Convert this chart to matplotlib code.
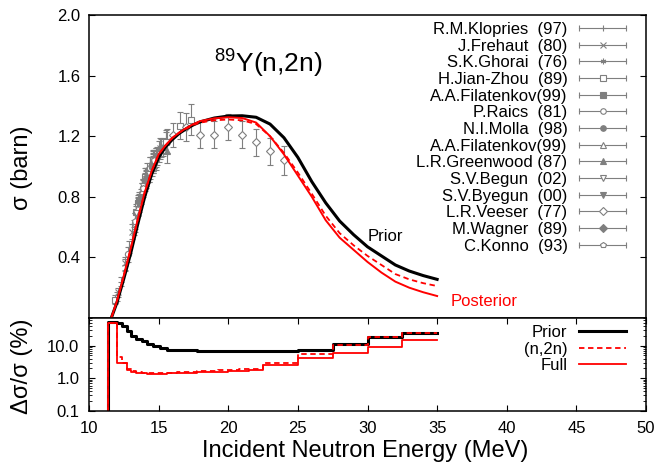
import numpy as np
import matplotlib
matplotlib.use("Agg")
import matplotlib.pyplot as plt
from matplotlib.lines import Line2D
from matplotlib.legend_handler import HandlerLine2D

plt.rcParams['font.family'] = ['Liberation Sans', 'DejaVu Sans']
plt.rcParams['mathtext.fontset'] = 'custom'
plt.rcParams['mathtext.rm'] = 'Liberation Sans'

# ---- evaluated cross sections (barn) ----
e_prior = [11.6, 12.0, 12.5, 13.0, 13.5, 14.0, 14.5, 15.0, 15.5, 16.0, 16.5, 17.0, 17.5, 18.0,
           19.0, 20.0, 21.0, 22.0, 23.0, 24.0, 25.0, 26.0, 27.0, 28.0, 29.0, 30.0, 31.0,
           32.0, 33.0, 34.0, 35.0]
sig_prior = [0.0, 0.10, 0.26, 0.43, 0.62, 0.80, 0.95, 1.06, 1.13, 1.18, 1.22, 1.25, 1.275, 1.295,
             1.32, 1.333, 1.335, 1.325, 1.28, 1.19, 1.06, 0.90, 0.76, 0.64, 0.55, 0.47, 0.41,
             0.35, 0.31, 0.28, 0.255]
sig_full = [0.0, 0.11, 0.28, 0.46, 0.65, 0.83, 0.97, 1.08, 1.14, 1.19, 1.225, 1.255, 1.28, 1.30,
            1.318, 1.325, 1.32, 1.29, 1.20, 1.08, 0.94, 0.80, 0.645, 0.53, 0.45, 0.37, 0.30,
            0.24, 0.20, 0.17, 0.145]
sig_n2n = [0.0, 0.11, 0.28, 0.46, 0.65, 0.83, 0.97, 1.08, 1.14, 1.19, 1.225, 1.25, 1.275, 1.29,
           1.305, 1.31, 1.305, 1.28, 1.20, 1.09, 0.96, 0.82, 0.675, 0.56, 0.48, 0.41, 0.35,
           0.29, 0.255, 0.23, 0.211]

# ---- relative uncertainties (%) on energy bins ----
edges = [11.4, 12.0, 12.35, 12.7, 13.05, 13.4, 13.8, 14.15, 14.6, 15.1, 15.6, 16.3, 17.0,
         17.75, 18.5, 19.25, 20.0, 20.75, 21.5, 22.5, 25.0, 27.5, 30.0, 32.5, 35.0]
unc_prior = [52, 50, 40, 28, 20, 16.3, 13.5, 11.3, 9.5, 8.3, 7.6, 7.3, 7.1, 7.0, 6.9, 6.9,
             6.8, 6.8, 6.7, 6.8, 7.6, 11.3, 18.8, 24.5]
unc_n2n = [50, 4.6, 2.9, 1.96, 1.65, 1.55, 1.5, 1.47, 1.45, 1.47, 1.5, 1.55, 1.6, 1.65, 1.7,
           1.8, 1.85, 1.9, 1.96, 3.0, 5.6, 10.5, 17.9, 24.2]
unc_full = [50, 2.9, 2.9, 1.75, 1.55, 1.48, 1.43, 1.40, 1.39, 1.40, 1.42, 1.45, 1.5, 1.53,
            1.57, 1.6, 1.65, 1.7, 1.75, 2.48, 4.2, 5.85, 9.3, 15.2]

# ---- experimental data: (label, marker, filled, E, sigma, dsigma) ----
exp_sets = [
    ("R.M.Klopries  (97)", "+", False,
     [12.0, 12.3, 12.6, 12.9, 13.2, 13.5, 13.8, 14.1, 14.4, 14.7, 15.0, 15.5],
     [0.14, 0.24, 0.35, 0.47, 0.60, 0.72, 0.84, 0.93, 1.00, 1.05, 1.10, 1.16],
     [0.03, 0.03, 0.04, 0.04, 0.05, 0.05, 0.05, 0.06, 0.06, 0.06, 0.07, 0.07]),
    ("J.Frehaut  (80)", "x", False,
     [12.1, 12.6, 13.1, 13.6, 14.1, 14.6, 15.1, 15.6],
     [0.17, 0.36, 0.57, 0.76, 0.92, 1.03, 1.12, 1.17],
     [0.03, 0.04, 0.05, 0.06, 0.06, 0.07, 0.07, 0.08]),
    ("S.K.Ghorai  (76)", (6, 2, 0), False,
     [13.5, 14.1, 14.7],
     [0.74, 0.94, 1.05],
     [0.05, 0.05, 0.06]),
    ("H.Jian-Zhou  (89)", "s", False,
     [11.9, 13.5, 14.0, 14.6, 15.5, 16.5, 17.3],
     [0.12, 0.76, 0.93, 1.04, 1.16, 1.27, 1.31],
     [0.03, 0.05, 0.06, 0.07, 0.08, 0.09, 0.10]),
    ("A.A.Filatenkov(99)", "s", True,
     [13.4, 13.7, 14.0, 14.3, 14.6, 14.9],
     [0.70, 0.80, 0.89, 0.96, 1.02, 1.07],
     [0.05, 0.05, 0.05, 0.06, 0.06, 0.06]),
    ("P.Raics  (81)", "o", False,
     [12.8, 13.3, 13.9, 14.4],
     [0.42, 0.63, 0.86, 0.99],
     [0.05, 0.06, 0.06, 0.07]),
    ("N.I.Molla  (98)", "o", True,
     [13.6, 14.0, 14.5, 14.8],
     [0.78, 0.90, 1.00, 1.06],
     [0.05, 0.05, 0.06, 0.06]),
    ("A.A.Filatenkov(99)", "^", False,
     [13.5, 13.8, 14.2, 14.6, 15.3],
     [0.73, 0.84, 0.94, 1.03, 1.13],
     [0.05, 0.05, 0.05, 0.06, 0.06]),
    ("L.R.Greenwood (87)", "^", True,
     [14.2, 14.8, 15.6],
     [0.96, 1.05, 1.10],
     [0.06, 0.07, 0.08]),
    ("S.V.Begun  (02)", "v", False,
     [13.4, 13.9, 14.3],
     [0.69, 0.87, 0.95],
     [0.05, 0.05, 0.05]),
    ("S.V.Byegun  (00)", "v", True,
     [13.5, 14.1, 14.7],
     [0.75, 0.92, 1.04],
     [0.05, 0.05, 0.05]),
    ("L.R.Veeser  (77)", "D", False,
     [16.0, 17.0, 18.0, 19.0, 20.0, 21.0, 22.0, 23.0, 24.0],
     [1.21, 1.26, 1.21, 1.21, 1.26, 1.21, 1.16, 1.10, 1.04],
     [0.08, 0.09, 0.09, 0.09, 0.086, 0.09, 0.09, 0.09, 0.096]),
    ("M.Wagner  (89)", "D", True,
     [14.0, 14.6, 15.2],
     [0.91, 1.02, 1.12],
     [0.05, 0.05, 0.06]),
    ("C.Konno  (93)", "p", False,
     [13.3, 13.9, 14.7],
     [0.64, 0.86, 1.04],
     [0.05, 0.05, 0.05]),
]

gray = "#7f7f7f"
fig = plt.figure(figsize=(6.56, 4.66), dpi=100)
ax1 = fig.add_axes([89/656, 1-318/466, 557/656, 303/466])
ax2 = fig.add_axes([89/656, 1-411/466, 557/656, 93/466], sharex=ax1)

handles, labels, hmap = [], [], {}
for lab, mk, filled, e, s, ds in exp_sets:
    fc = gray if filled else "white"
    if mk in ("+", "x") or isinstance(mk, tuple):
        fc = gray
    ax1.errorbar(e, s, yerr=ds, fmt="none", ecolor=gray, elinewidth=0.8, capsize=2.5,
                 capthick=0.8, zorder=2)
    ax1.plot(e, s, ls="none", marker=mk, ms=4.5, mfc=fc, mec=gray, mew=0.8, zorder=3)
    caps = Line2D([], [], color=gray, lw=0.8, marker="|", ms=5, mew=0.8)
    mark = Line2D([], [], ls="none", marker=mk, ms=4, mfc=fc, mec=gray, mew=0.8)
    hmap[caps] = HandlerLine2D(numpoints=2, marker_pad=0)
    handles.append((caps, mark))
    labels.append(lab)

ax1.plot(e_prior, sig_prior, color="black", lw=2.2, zorder=4)
ax1.plot(e_prior, sig_n2n, color="red", lw=1.3, ls=(0, (3, 2)), zorder=5)
ax1.plot(e_prior, sig_full, color="red", lw=1.4, zorder=5)

ax1.text(0.321, 0.843, "$^{89}$Y(n,2n)", transform=ax1.transAxes, fontsize=19,
         ha="center", va="center")
ax1.text(30.0, 0.535, "Prior", fontsize=12, ha="left", va="center")
ax1.text(36.0, 0.108, "Posterior", fontsize=12, color="red", ha="left", va="center")

ax1.legend(handles, labels, handler_map=hmap, loc="upper right",
           bbox_to_anchor=(0.964, 0.977), frameon=False, markerfirst=False,
           fontsize=12, labelspacing=0.1, handlelength=2.8, handletextpad=0.7,
           borderpad=0, borderaxespad=0)

ax1.set_xlim(10, 50)
ax1.set_ylim(0, 2.0)
ax1.set_yticks([0.4, 0.8, 1.2, 1.6, 2.0])
ax1.set_yticklabels(["0.4", "0.8", "1.2", "1.6", "2.0"])
ax1.tick_params(axis="x", bottom=False, labelbottom=False)
ax1.tick_params(axis="y", direction="in", left=True, right=True, length=4, labelsize=12, pad=6)
ax1.set_ylabel("σ (barn)", fontsize=17)
ax1.yaxis.set_label_coords(-0.10, 0.497)

# bottom panel: step uncertainties
xs = [edges[0]] + edges
ax2.step(xs, [1e-3] + unc_prior + [unc_prior[-1]], where="post", color="black", lw=2.2,
         label="Prior")
ax2.step(xs, [1e-3] + unc_n2n + [unc_n2n[-1]], where="post", color="red", lw=1.3,
         ls=(0, (3, 2)), label="(n,2n)")
ax2.step(xs, [1e-3] + unc_full + [unc_full[-1]], where="post", color="red", lw=1.3,
         label="Full")
ax2.set_yscale("log")
ax2.set_ylim(0.1, 70)
ax2.set_yticks([0.1, 1, 10])
ax2.set_yticklabels(["0.1", "1.0", "10.0"])
ax2.set_xticks(np.arange(10, 51, 5))
ax2.tick_params(which="both", direction="in", top=True, bottom=True, left=True, right=True,
                labelsize=12, pad=7)
ax2.tick_params(which="major", length=4)
ax2.tick_params(which="minor", length=2)
ax2.set_xlabel("Incident Neutron Energy (MeV)", fontsize=17)
ax2.xaxis.set_label_coords(0.496, -0.31)
ax2.set_ylabel("Δσ/σ (%)", fontsize=17)
ax2.yaxis.set_label_coords(-0.10, 0.48)
ax2.legend(loc="upper right", bbox_to_anchor=(0.964, 0.925), frameon=False, markerfirst=False,
           fontsize=12, labelspacing=0.1, handlelength=2.8, handletextpad=0.7,
           borderpad=0, borderaxespad=0)

for ax in (ax1, ax2):
    for sp in ax.spines.values():
        sp.set_linewidth(1.1)

fig.savefig("out.png", dpi=100)
